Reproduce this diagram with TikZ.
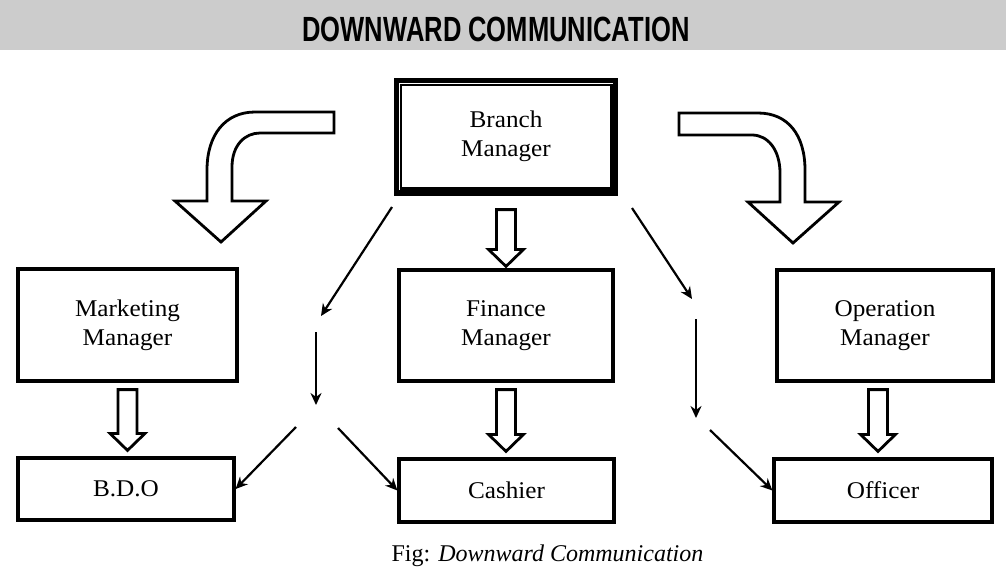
\documentclass[tikz,border=0pt]{standalone}
\usepackage{graphicx}
\usepackage{fontspec}
\setmainfont{Liberation Serif}
\newfontfamily\labelfont{Liberation Serif}[FakeStretch=1.05]
\newfontfamily\titlefont{Liberation Sans}
\usetikzlibrary{calc,arrows.meta}

% hollow block arrow from the bottom of #1 to the top of #2
% #3 = x shift, #4 = gap below #1, #5 = gap above #2 (all in px)
\newcommand\blockarrow[5]{%
  \draw[hollow] let \p1=($(#1.south)+(#3,#4)$), \p2=($(#2.north)+(#3,-#5)$) in
    (\x1-4.75pt,\y1) -- (\x1+4.75pt,\y1) -- (\x1+4.75pt,\y2+8.5pt) -- (\x1+8.75pt,\y2+8.5pt)
    -- (\x1,\y2) -- (\x1-8.75pt,\y2+8.5pt) -- (\x1-4.75pt,\y2+8.5pt) -- cycle;
}

\begin{document}
\begin{tikzpicture}[x=0.5pt,y=-0.5pt,>={Stealth[length=6pt,width=5.5pt]}]
\tikzstyle{box}=[rectangle,draw,line width=1.6pt,inner sep=2pt,align=center,font=\labelfont\fontsize{12}{14.5}\selectfont]
\tikzstyle{hollow}=[draw,fill=white,line width=1.4pt,line join=miter]
\tikzstyle{thin}=[->,line width=1.1pt]
\useasboundingbox (0,0) rectangle (1006,580);

% title band
\fill[black!20] (0,0) rectangle (1006,50);
\node[anchor=base,inner sep=0pt,font=\titlefont\bfseries\fontsize{17.5}{20}\selectfont] (title) at (496,41) {\scalebox{0.73}[1]{DOWNWARD COMMUNICATION}};

% boxes
\node[box,line width=2.6pt,minimum width=109.7pt,minimum height=56.25pt] (branch) at (506,136.75) {Branch\\Manager};
\draw[line width=1.2pt] ($(branch.north west)+(7,7)$) rectangle ($(branch.south east)+(-7,-7)$);
\node[box,minimum width=109.5pt,minimum height=56pt] (mkt) at (127.5,325) {Marketing\\Manager};
\node[box,minimum width=107pt,minimum height=55.5pt] (fin) at (506,325.5) {Finance\\Manager};
\node[box,minimum width=108pt,minimum height=55.5pt] (ops) at (885,325.5) {Operation\\Manager};
\node[box,minimum width=108pt,minimum height=31pt] (bdo) at (126,489) {B.D.O};
\node[box,minimum width=107.5pt,minimum height=31.5pt] (cash) at (506.5,490.5) {Cashier};
\node[box,minimum width=109pt,minimum height=31.5pt] (offi) at (883,490.5) {Officer};

% block arrows
\blockarrow{branch}{fin}{0}{14}{2}
\blockarrow{mkt}{bdo}{0}{7}{6}
\blockarrow{fin}{cash}{0}{7}{6}
\blockarrow{ops}{offi}{-7}{7}{6}

% curved arrows
\draw[hollow] (334,112) -- (255,112) .. controls (225,112) and (207,135) .. (207,170)
  -- (207,201) -- (175,201) -- (221,242) -- (266,201) -- (232,201) -- (232,167)
  .. controls (232,145) and (245,133) .. (260,133) -- (334,133) -- cycle;
\draw[hollow] (679,113) -- (758,113) .. controls (788,113) and (805,135) .. (805,170)
  -- (805,202) -- (839,202) -- (793,243) -- (748,202) -- (780,202) -- (780,173)
  .. controls (780,150) and (768,135) .. (752,135) -- (679,135) -- cycle;

% thin arrows
\coordinate (l1) at (392,207);
\coordinate (l2) at (321,316);
\coordinate (l3) at (316,332);
\coordinate (l4) at (316,405);
\coordinate (l5) at (296,427);
\coordinate (l6) at (338,428);
\coordinate (r1) at (632,208);
\coordinate (r2) at (692,299);
\coordinate (r3) at (696,319);
\coordinate (r4) at (696,418);
\coordinate (r5) at (710,430);
\draw[thin] (l1) -- (l2);
\draw[thin] (l3) -- (l4);
\draw[thin] (l5) -- (bdo.east);
\draw[thin] (l6) -- (cash.west);
\draw[thin] (r1) -- (r2);
\draw[thin] (r3) -- (r4);
\draw[thin] (r5) -- (offi.west);

% caption
\node[anchor=base,inner sep=0pt,font=\fontsize{12}{14}\selectfont] (caption) at (547.5,561) {Fig: \textit{Downward Communication}};
\end{tikzpicture}
\end{document}
